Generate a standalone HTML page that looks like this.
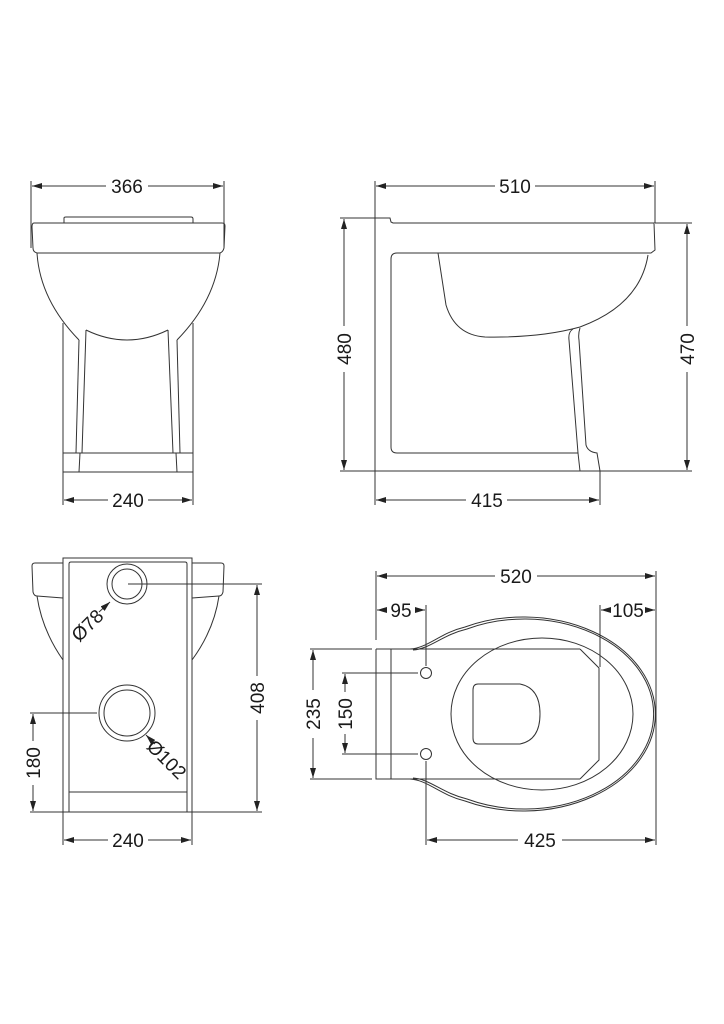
<!DOCTYPE html>
<html><head><meta charset="utf-8"><style>
html,body{margin:0;padding:0;background:#fff;}
svg{display:block}
text{font-family:"Liberation Sans",sans-serif;font-size:19px;fill:#1a1a1a;}
</style></head><body>
<svg width="724" height="1024" viewBox="0 0 724 1024" xmlns="http://www.w3.org/2000/svg">
<defs>
<marker id="a" viewBox="0 0 10 6" refX="10" refY="3" markerWidth="10" markerHeight="6" orient="auto-start-reverse" markerUnits="userSpaceOnUse"><path d="M0,0 L10,3 L0,6 z" fill="#222"/></marker>
</defs>
<g fill="none" stroke="#333" stroke-width="1">
<line x1="31" y1="181" x2="31" y2="248"/><line x1="224" y1="181" x2="224" y2="248"/>
<line x1="32" y1="186" x2="106" y2="186" marker-start="url(#a)"/><line x1="148" y1="186" x2="223" y2="186" marker-end="url(#a)"/>
<path d="M64,223 L64,218 Q64,217 66,217 L191,217 Q193,217 193,219 L193,223"/>
<path d="M34,223 L222,223 Q225,223 225,226 L224,248 Q223,252 220,253 L37,253 Q33,252 33,248 L32,227 Q32,223 34,223 Z"/>
<path d="M37,253 Q40,300 79,340"/>
<path d="M220,253 Q216,300 177,340"/>
<path d="M86,330 Q127,350 168,330"/>
<line x1="63" y1="323" x2="63" y2="453"/><line x1="193" y1="323" x2="193" y2="453"/>
<line x1="79" y1="340" x2="76" y2="453"/><line x1="177" y1="340" x2="180" y2="453"/>
<line x1="86" y1="330" x2="82" y2="453"/><line x1="168" y1="330" x2="173" y2="453"/>
<rect x="63" y="453" width="130" height="19"/>
<line x1="80" y1="453" x2="79" y2="472"/><line x1="176" y1="453" x2="177" y2="472"/>
<line x1="63" y1="472" x2="63" y2="505"/><line x1="193" y1="472" x2="193" y2="505"/>
<line x1="64" y1="500" x2="108" y2="500" marker-start="url(#a)"/><line x1="148" y1="500" x2="192" y2="500" marker-end="url(#a)"/>

<line x1="375" y1="181" x2="375" y2="218"/><line x1="655" y1="181" x2="655" y2="223"/>
<line x1="376" y1="186" x2="495" y2="186" marker-start="url(#a)"/><line x1="535" y1="186" x2="654" y2="186" marker-end="url(#a)"/>
<path d="M375,218 L390,218 L391,222 L393,223 L654,223 L655,250 L651,253 L397,253 Q391,253 391,259 L391,447 Q391,453 397,453 L578,453"/>
<line x1="375" y1="218" x2="375" y2="471"/>
<line x1="375" y1="471" x2="600" y2="471"/>
<path d="M438,253 L446,305 Q455,335 485,337 Q540,338 580,327 Q640,305 648,255"/>
<path d="M573,329 Q568,332 569,340 L578,453 L580,471"/>
<path d="M580,328 Q578,334 579,340 L586,445 Q588,452 597,453 L600,471"/>
<line x1="340" y1="218" x2="375" y2="218"/><line x1="340" y1="471" x2="375" y2="471"/>
<line x1="344" y1="219" x2="344" y2="326" marker-start="url(#a)"/><line x1="344" y1="372" x2="344" y2="470" marker-end="url(#a)"/>
<line x1="655" y1="223" x2="692" y2="223"/><line x1="600" y1="471" x2="692" y2="471"/>
<line x1="687" y1="224" x2="687" y2="326" marker-start="url(#a)"/><line x1="687" y1="372" x2="687" y2="470" marker-end="url(#a)"/>
<line x1="375" y1="471" x2="375" y2="505"/><line x1="600" y1="471" x2="600" y2="505"/>
<line x1="376" y1="500" x2="466" y2="500" marker-start="url(#a)"/><line x1="507" y1="500" x2="599" y2="500" marker-end="url(#a)"/>

<rect x="63" y="558" width="129" height="254"/>
<path d="M69,812 L69,564 Q69,562 71,562 L185,562 Q187,562 187,564 L187,812"/>
<line x1="69" y1="792" x2="187" y2="792"/>
<path d="M63,563 L35,563 Q32,563 32,566 L33,592 Q34,596 37,596 L63,598"/>
<path d="M37,596 Q42,630 63,660"/>
<path d="M192,563 L221,563 Q224,563 224,566 L223,592 Q222,596 219,596 L192,598"/>
<path d="M219,596 Q214,630 192,660"/>
<circle cx="127" cy="584" r="20"/><circle cx="127" cy="584" r="15"/>
<circle cx="127" cy="713" r="28"/><circle cx="127" cy="713" r="23"/>
<line x1="128" y1="584" x2="262" y2="584"/>
<line x1="192" y1="812" x2="262" y2="812"/>
<line x1="257" y1="585" x2="257" y2="676" marker-start="url(#a)"/><line x1="257" y1="720" x2="257" y2="811" marker-end="url(#a)"/>
<line x1="30" y1="713" x2="97" y2="713"/><line x1="30" y1="812" x2="63" y2="812"/>
<line x1="33" y1="714" x2="33" y2="741" marker-start="url(#a)"/><line x1="33" y1="785" x2="33" y2="811" marker-end="url(#a)"/>
<line x1="99" y1="612" x2="110" y2="602" marker-end="url(#a)"/>
<line x1="155" y1="744" x2="146" y2="735" marker-end="url(#a)"/>
<line x1="63" y1="812" x2="63" y2="845"/><line x1="192" y1="812" x2="192" y2="845"/>
<line x1="64" y1="840" x2="108" y2="840" marker-start="url(#a)"/><line x1="148" y1="840" x2="191" y2="840" marker-end="url(#a)"/>

<line x1="376" y1="571" x2="376" y2="640"/><line x1="656" y1="571" x2="656" y2="845"/>
<line x1="377" y1="576" x2="495" y2="576" marker-start="url(#a)"/><line x1="537" y1="576" x2="655" y2="576" marker-end="url(#a)"/>
<line x1="377" y1="610" x2="386" y2="610" marker-start="url(#a)"/><line x1="416" y1="610" x2="425" y2="610" marker-end="url(#a)"/>
<line x1="426" y1="605" x2="426" y2="666"/><line x1="426" y1="761" x2="426" y2="845"/>
<line x1="600" y1="605" x2="600" y2="667"/>
<line x1="601" y1="610" x2="609" y2="610" marker-start="url(#a)"/><line x1="647" y1="610" x2="655" y2="610" marker-end="url(#a)"/>
<path d="M376,649 L376,779 L580,779 M376,649 L580,649 M391,649 L391,779"/>
<path d="M410,649 C428,648 440,633 465,627 A132,97 0 1 1 465,801 C440,795 428,780 410,779"/>
<path d="M413,650 C430,649 442,635 467,629 A129,95 0 1 1 467,799 C442,793 430,779 413,778"/>
<ellipse cx="542" cy="714" rx="91" ry="76"/>
<path d="M580,649 L599,668 L599,760 L580,779"/>
<path d="M478,684 L520,684 Q540,688 540,714 Q540,740 520,744 L478,744 Q473,744 473,738 L473,690 Q473,684 478,684 Z"/>
<circle cx="426" cy="673" r="5.5"/><circle cx="426" cy="754" r="5.5"/>
<line x1="310" y1="649" x2="372" y2="649"/><line x1="310" y1="779" x2="372" y2="779"/>
<line x1="313" y1="650" x2="313" y2="690" marker-start="url(#a)"/><line x1="313" y1="738" x2="313" y2="778" marker-end="url(#a)"/>
<line x1="342" y1="673" x2="418" y2="673"/><line x1="342" y1="754" x2="418" y2="754"/>
<line x1="345" y1="674" x2="345" y2="692" marker-start="url(#a)"/><line x1="345" y1="734" x2="345" y2="753" marker-end="url(#a)"/>
<line x1="427" y1="840" x2="518" y2="840" marker-start="url(#a)"/><line x1="562" y1="840" x2="655" y2="840" marker-end="url(#a)"/>
</g>
<g>
<text x="127" y="193" text-anchor="middle">366</text>
<text x="128" y="507" text-anchor="middle">240</text>
<text x="515" y="193" text-anchor="middle">510</text>
<text x="487" y="507" text-anchor="middle">415</text>
<text transform="translate(351,349) rotate(-90)" text-anchor="middle">480</text>
<text transform="translate(694,349) rotate(-90)" text-anchor="middle">470</text>
<text transform="translate(264,698) rotate(-90)" text-anchor="middle">408</text>
<text transform="translate(40,763) rotate(-90)" text-anchor="middle">180</text>
<text transform="translate(92,630) rotate(-45)" text-anchor="middle">Ø78</text>
<text transform="translate(162,764) rotate(45)" text-anchor="middle">Ø102</text>
<text x="128" y="847" text-anchor="middle">240</text>
<text x="516" y="583" text-anchor="middle">520</text>
<text x="401" y="617" text-anchor="middle">95</text>
<text x="628" y="617" text-anchor="middle">105</text>
<text transform="translate(320,714) rotate(-90)" text-anchor="middle">235</text>
<text transform="translate(352,714) rotate(-90)" text-anchor="middle">150</text>
<text x="540" y="847" text-anchor="middle">425</text>
</g>
</svg>
</body></html>
